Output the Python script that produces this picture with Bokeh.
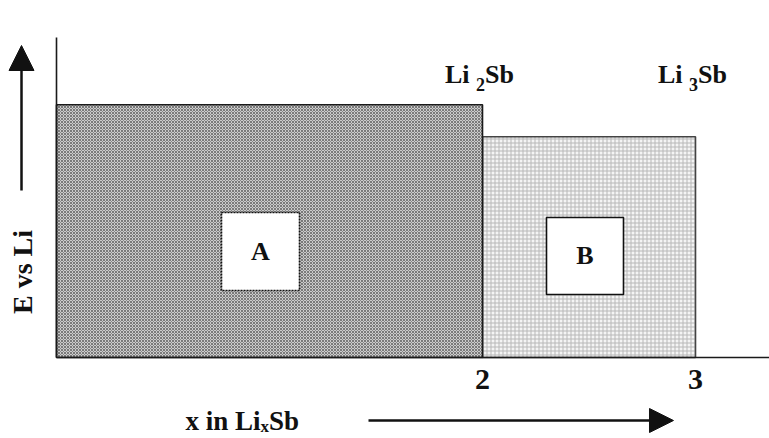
import math
from bokeh.plotting import figure
from bokeh.models import Range1d, Label, Arrow, NormalHead, FixedTicker, ColumnDataSource
from bokeh.embed import file_html
from bokeh.resources import INLINE

# ---- data ----
phase_names = ["A", "B"]
x_from = [0.0, 2.0]
x_to = [2.0, 3.0]
plateau_E = [0.79, 0.69]
tick_positions = [2, 3]
tick_labels = ["2", "3"]
compound_x = [2, 3]
compound_sub = ["2", "3"]
y_label = "E vs Li"

FONT = "Liberation Serif"
INK = "#111111"
# Liberation Serif Bold advance widths (em)
ADV = {"L": 0.667, "i": 0.278, " ": 0.25, "S": 0.556, "b": 0.556, "x": 0.5,
       "n": 0.556, "E": 0.667, "v": 0.5, "s": 0.389, "2": 0.5, "3": 0.5}


def tw(s, size):
    return sum(ADV.get(c, 0.5) for c in s) * size


W, H = 769, 438
p = figure(width=W, height=H, output_backend="svg", toolbar_location=None,
           x_range=Range1d(-0.26291, 3.34742), y_range=Range1d(-0.253125, 1.115625),
           min_border=0, min_border_left=0, min_border_right=0, min_border_top=0,
           min_border_bottom=0)
p.outline_line_color = None
p.xgrid.visible = False
p.ygrid.visible = False
p.background_fill_color = "white"
p.border_fill_color = "white"

# axes drawn at the origin, inside the frame
p.yaxis.fixed_location = 0
p.yaxis.bounds = (0, 1.0)
p.yaxis.ticker = FixedTicker(ticks=[])
p.yaxis.major_tick_line_color = None
p.yaxis.minor_tick_line_color = None
p.yaxis.major_label_text_font_size = "0px"
p.yaxis.axis_line_width = 1.6
p.yaxis.axis_line_color = "#1a1a1a"

p.xaxis.fixed_location = 0
p.xaxis.bounds = (0, 3.34742)
p.xaxis.ticker = FixedTicker(ticks=tick_positions)
p.xaxis.major_label_overrides = {t: l for t, l in zip(tick_positions, tick_labels)}
p.xaxis.major_tick_line_color = None
p.xaxis.minor_tick_line_color = None
p.xaxis.major_label_text_font = FONT
p.xaxis.major_label_text_font_style = "bold"
p.xaxis.major_label_text_font_size = "30px"
p.xaxis.major_label_text_color = INK
p.xaxis.major_label_standoff = 6
p.xaxis.axis_line_width = 1.6
p.xaxis.axis_line_color = "#1a1a1a"

# plateau regions
src_a = ColumnDataSource(dict(left=[x_from[0]], right=[x_to[0]], top=[plateau_E[0]], bottom=[0]))
src_b = ColumnDataSource(dict(left=[x_from[1]], right=[x_to[1]], top=[plateau_E[1]], bottom=[0]))
p.quad(left="left", right="right", top="top", bottom="bottom", source=src_b,
       fill_color="#f4f4f4", hatch_pattern="+", hatch_color="#b8b8b8", hatch_scale=4,
       hatch_weight=1, line_color="#444444", line_width=1.6)
p.quad(left="left", right="right", top="top", bottom="bottom", source=src_a,
       fill_color="#cccccc", hatch_pattern="x", hatch_color="#7a7a7a", hatch_scale=3,
       hatch_weight=1, line_color="#1a1a1a", line_width=1.6)

# white label boxes inside the regions
box_x = [0.9577, 2.4812]
box_y = [0.3313, 0.3172]
p.rect(x=box_x[:1], y=box_y[:1], width=78, height=78, width_units="screen", height_units="screen",
       fill_color="white", line_color=INK, line_width=1.6, line_dash="2 1")
p.rect(x=box_x[1:], y=box_y[1:], width=77, height=77, width_units="screen", height_units="screen",
       fill_color="white", line_color=INK, line_width=1.6)
for bx, by, name in zip(box_x, box_y, phase_names):
    p.add_layout(Label(x=bx, y=by, text=name, text_align="center", text_baseline="middle",
                       text_font=FONT, text_font_style="bold", text_font_size="26px",
                       text_color=INK))

# compound labels Li_2Sb, Li_3Sb (with subscripts)
MAIN, SUB = 26, 18
for cx, sub in zip(compound_x, compound_sub):
    total = tw("Li ", MAIN) + tw(sub, SUB) + tw("Sb", MAIN)
    start = -3 - total / 2
    y0 = 0.8844
    p.add_layout(Label(x=cx, y=y0, x_offset=start, text="Li ", text_align="left",
                       text_baseline="alphabetic", text_font=FONT, text_font_style="bold",
                       text_font_size=f"{MAIN}px", text_color=INK))
    p.add_layout(Label(x=cx, y=y0, x_offset=start + tw("Li ", MAIN), y_offset=-10, text=sub,
                       text_align="left", text_baseline="alphabetic", text_font=FONT,
                       text_font_style="bold", text_font_size=f"{SUB}px", text_color=INK))
    p.add_layout(Label(x=cx, y=y0, x_offset=start + tw("Li ", MAIN) + tw(sub, SUB), text="Sb",
                       text_align="left", text_baseline="alphabetic", text_font=FONT,
                       text_font_style="bold", text_font_size=f"{MAIN}px", text_color=INK))

# y axis label with arrow
p.add_layout(Label(x=-0.1596, y=0.2672, text=y_label, angle=math.pi / 2, text_align="center",
                   text_baseline="middle", text_font=FONT, text_font_style="bold",
                   text_font_size="28px", text_color=INK))
p.add_layout(Arrow(x_start=-0.1643, y_start=0.5219, x_end=-0.1643, y_end=0.975,
                   line_width=2.5, line_color=INK,
                   end=NormalHead(size=25, fill_color=INK, line_color=INK)))

# x axis label "x in Li_x Sb" with arrow
XM, XS = 27, 17
xl_x, xl_y = 0.6056, -0.1969
p.add_layout(Label(x=xl_x, y=xl_y, text="x in Li", text_align="left", text_baseline="alphabetic",
                   text_font=FONT, text_font_style="bold", text_font_size=f"{XM}px",
                   text_color=INK))
p.add_layout(Label(x=xl_x, y=xl_y, x_offset=tw("x in Li", XM), y_offset=-6, text="x",
                   text_align="left", text_baseline="alphabetic", text_font=FONT,
                   text_font_style="bold", text_font_size=f"{XS}px", text_color=INK))
p.add_layout(Label(x=xl_x, y=xl_y, x_offset=tw("x in Li", XM) + tw("x", XS), text="Sb",
                   text_align="left", text_baseline="alphabetic", text_font=FONT,
                   text_font_style="bold", text_font_size=f"{XM}px", text_color=INK))
p.add_layout(Arrow(x_start=1.4648, y_start=-0.1969, x_end=2.8967, y_end=-0.1969,
                   line_width=2.5, line_color=INK,
                   end=NormalHead(size=24, fill_color=INK, line_color=INK)))

open("out.html", "w").write(file_html(p, INLINE))
